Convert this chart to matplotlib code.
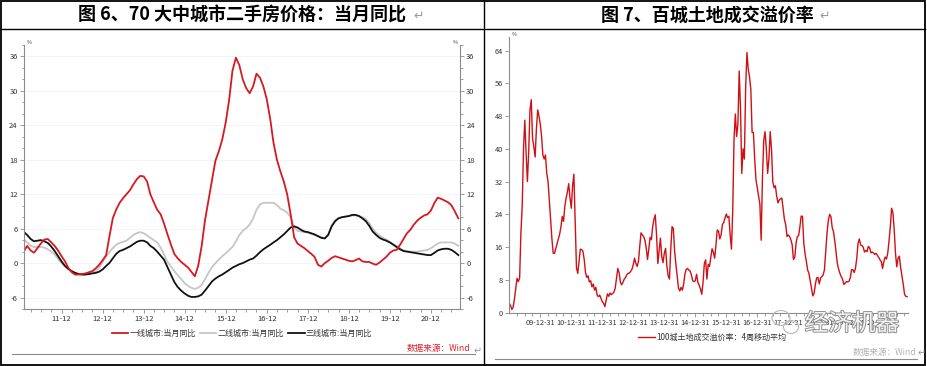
import pandas as pd
import matplotlib
matplotlib.use("Agg")
import matplotlib.pyplot as plt
import matplotlib.patheffects as pe
from matplotlib.lines import Line2D
from matplotlib.patches import Rectangle, Ellipse
from matplotlib.ticker import FixedLocator, MultipleLocator

plt.rcParams['font.family'] = ['Noto Sans CJK SC', 'DejaVu Sans']
plt.rcParams['axes.unicode_minus'] = False

# --- 图6: 70大中城市二手房价格 当月同比 (monthly, from 2011-01) ---
tier1_yoy = [2.1, 3.0, 2.2, 1.8, 2.6, 3.4, 4.1, 4.2, 3.6, 3.0, 2.2, 1.2,
             0.3, -0.8, -1.6, -2.0, -2.0, -1.9, -1.8, -1.6, -1.4, -0.9, -0.3, 0.5,
             1.4, 4.5, 7.8, 9.3, 10.5, 11.3, 12.0, 12.7, 13.7, 14.6, 15.2, 15.1,
             14.2, 12.0, 10.6, 9.3, 8.5, 6.9, 5.0, 3.2, 1.6, 0.8, 0.2, -0.3,
             -0.8, -1.5, -2.3, -0.5, 3.0, 7.5, 11.0, 14.5, 17.8, 19.5, 21.5, 24.5,
             28.5, 33.5, 35.8, 34.5, 32.0, 30.5, 29.6, 30.8, 33.0, 32.3, 30.8, 28.5,
             25.0, 21.0, 18.0, 16.0, 14.2, 12.0, 8.5, 4.5, 3.4, 3.0, 2.6, 2.1,
             1.6, 1.1, -0.3, -0.6, 0.0, 0.4, 0.9, 1.2, 1.0, 0.8, 0.6, 0.4,
             0.3, 0.5, 0.8, 0.3, 0.2, 0.2, -0.1, -0.3, 0.1, 0.6, 1.1, 1.8,
             2.2, 2.3, 3.2, 4.2, 5.2, 5.8, 6.7, 7.4, 7.9, 8.3, 8.5, 9.2,
             10.5, 11.4, 11.2, 10.9, 10.6, 10.1, 9.0, 7.8]
tier2_yoy = [4.1, 3.6, 3.0, 2.8, 2.8, 2.8, 2.7, 2.4, 2.0, 1.5, 0.7, 0.0,
             -0.6, -1.1, -1.5, -1.8, -1.9, -2.0, -1.9, -1.8, -1.6, -1.4, -0.8, 0.2,
             1.1, 1.9, 2.6, 3.2, 3.5, 3.7, 3.9, 4.4, 4.9, 5.2, 5.4, 5.2,
             4.8, 4.4, 4.0, 3.6, 2.7, 1.5, 0.2, -0.6, -1.4, -2.1, -2.8, -3.5,
             -4.0, -4.3, -4.5, -4.3, -3.8, -2.8, -1.7, -0.7, 0.0, 0.6, 1.2, 1.7,
             2.3, 2.8, 3.8, 4.9, 5.6, 6.1, 6.7, 7.8, 9.3, 10.2, 10.5, 10.5,
             10.5, 10.5, 10.1, 9.5, 9.2, 8.8, 8.0, 6.2, 5.6, 5.5, 5.4, 5.3,
             5.1, 4.9, 4.7, 4.5, 4.3, 5.0, 6.6, 7.5, 7.8, 8.0, 8.1, 8.2,
             8.3, 8.3, 8.2, 8.0, 7.7, 7.0, 6.0, 5.3, 4.8, 4.4, 4.1, 3.7,
             3.2, 3.0, 2.6, 2.2, 2.1, 2.0, 2.0, 2.0, 2.1, 2.2, 2.3, 2.6,
             3.0, 3.4, 3.6, 3.6, 3.6, 3.6, 3.4, 3.0]
tier3_yoy = [5.4, 4.9, 4.2, 3.8, 3.9, 4.0, 3.8, 3.5, 2.9, 2.1, 1.2, 0.3,
             -0.5, -1.0, -1.4, -1.7, -1.9, -2.0, -2.0, -1.9, -1.8, -1.7, -1.5, -1.1,
             -0.5, 0.0, 0.8, 1.6, 2.1, 2.3, 2.6, 2.9, 3.3, 3.7, 3.9, 3.9,
             3.6, 3.0, 2.6, 2.0, 1.3, 0.6, -0.7, -2.0, -3.3, -4.2, -4.8, -5.3,
             -5.7, -5.9, -5.9, -5.8, -5.5, -4.8, -4.0, -3.2, -2.7, -2.3, -2.0, -1.6,
             -1.2, -0.8, -0.5, -0.2, 0.0, 0.3, 0.6, 0.8, 1.3, 1.9, 2.4, 2.8,
             3.2, 3.6, 4.0, 4.5, 5.0, 5.6, 6.2, 6.4, 6.2, 5.8, 5.5, 5.4,
             5.2, 5.0, 4.7, 4.4, 4.3, 4.9, 6.4, 7.3, 7.8, 8.0, 8.1, 8.2,
             8.4, 8.4, 8.2, 7.8, 7.3, 6.5, 5.5, 4.9, 4.4, 4.1, 3.9, 3.6,
             3.2, 2.8, 2.4, 2.1, 2.0, 1.9, 1.8, 1.7, 1.6, 1.5, 1.4, 1.4,
             1.8, 2.2, 2.4, 2.5, 2.5, 2.3, 1.9, 1.4]
tier_labels = ['一线城市:当月同比', '二线城市:当月同比', '三线城市:当月同比']
tier_years = list(range(2011, 2021))

# --- 图7: 100城土地成交溢价率 4周移动平均 (half-monthly, 2009-01 .. 2021-11) ---
land_premium = [2.3, 1.7, 0.8, 1.4, 3.4, 6.0, 8.4, 7.6, 8.5, 19.6,
                26, 40, 47, 39, 32, 39, 49.5, 52, 42.5, 40.5,
                38, 45, 49.5, 48, 46, 43, 38.5, 37.5, 38.5, 34,
                32, 27.5, 22.7, 18, 14.5, 14.5, 15.7, 17, 18.2, 19.2,
                21, 23.5, 22.3, 26, 28, 29.5, 31.5, 28, 25.5, 31,
                33.8, 22, 11, 9.6, 12.5, 15.5, 15.4, 15, 13, 9.8,
                8.6, 9.0, 7.5, 7.8, 6.3, 7.0, 5.5, 6.2, 4.3, 3.9,
                4.3, 3.5, 2.7, 2.3, 1.5, 3.0, 4.6, 4.0, 4.8, 4.4,
                4.7, 5.0, 6.0, 8.5, 10.8, 9.8, 7.5, 6.8, 7.4, 8.2,
                8.6, 9.3, 9.6, 9.7, 10.1, 10.6, 11.8, 13.3, 12.0, 11.3,
                12.5, 16.2, 19.5, 19, 18.6, 17.7, 15.8, 13, 15.5, 18.4,
                17.8, 21, 22.8, 23.9, 19, 12, 15, 18.2, 13.8, 12.2,
                14.5, 15.7, 11.5, 9.0, 8.2, 15.5, 21, 20.6, 15, 11.8,
                9.0, 6.0, 5.3, 6.2, 5.5, 7.0, 9.5, 10.6, 10.8, 10.4,
                10.2, 9.2, 7.8, 7.6, 7.8, 9.4, 7.4, 6.7, 5.8, 4.5,
                7.3, 12, 12.9, 8.2, 11.8, 11.3, 13.4, 15.6, 14.8, 13.3,
                16.5, 20.2, 19.9, 18, 19, 21.5, 22, 23.1, 24.1, 23.2,
                23.5, 19, 15.5, 25, 42.5, 48.5, 43, 46, 59, 50,
                34, 40, 37.5, 55, 63.5, 59.5, 57.5, 54.5, 44, 44,
                37.5, 32.4, 30.5, 28.5, 26.5, 17.7, 33, 42, 44.2, 40,
                34, 37.5, 44.2, 40, 32, 30.5, 31, 28.5, 26.8, 27.5,
                27.8, 28, 25.5, 22.8, 21.5, 18.6, 19, 18.6, 17.8, 16.6,
                13, 13.5, 16.9, 18.6, 18.8, 21, 23.6, 23.5, 17, 14.4,
                12.5, 10.4, 9.6, 7.7, 5.9, 4.1, 4.7, 7.0, 8.5, 8.6,
                7.0, 8.5, 8.8, 9.2, 10.5, 15, 19.5, 22.5, 24, 23.5,
                20.8, 19.8, 17.5, 14.8, 12, 10.6, 9.6, 8.8, 8.2, 6.9,
                7.2, 7.6, 7.5, 7.7, 8.5, 10.5, 10.5, 9.8, 10.8, 13.2,
                16.9, 18, 16.5, 16.4, 16, 14.8, 15.2, 14.9, 16.2, 15.8,
                14.6, 14.8, 14.6, 14.2, 14.5, 14, 13.5, 12.9, 12.5, 10.8,
                12.5, 13.6, 13.1, 14.5, 17.5, 21, 25.5, 24.5, 20.3, 14.5,
                11.2, 13.3, 13.8, 11, 9, 7, 4.5, 4, 3.9]
land_label = '100城土地成交溢价率：4周移动平均'
land_years = list(range(2009, 2021))

W, H = 927, 366
RED = '#d7191f'
AXC = '#8c8c8c'
fig = plt.figure(figsize=(W / 100, H / 100), dpi=100)


def fx(px):
    return px / W


def fy(py):
    return 1 - py / H


def date_locs(dates):
    return [matplotlib.dates.date2num(d) for d in dates]


# ---------------- left chart ----------------
months = pd.date_range('2011-01-31', periods=len(tier1_yoy), freq='ME')
ax1 = fig.add_axes([fx(24), fy(309), fx(436), 264 / H])
ax1.plot(months, tier2_yoy, color='#c6c6c6', lw=1.3, label=tier_labels[1])
ax1.plot(months, tier3_yoy, color='#111111', lw=1.3, label=tier_labels[2])
ax1.plot(months, tier1_yoy, color=RED, lw=1.3, label=tier_labels[0])
ax1.set_ylim(-8, 38)
ax1.set_xlim(months[0], months[-1] + pd.Timedelta(days=15))
ax1.set_yticks(range(-6, 37, 6))
ax1.yaxis.set_minor_locator(MultipleLocator(2))
ticks1 = [pd.Timestamp(f'{y}-12-31') for y in tier_years]
ax1.xaxis.set_major_locator(FixedLocator(date_locs(ticks1)))
ax1.set_xticklabels([f'{y % 100:02d}-12' for y in tier_years])
q1 = pd.date_range('2011-03-31', '2021-09-30', freq='QE')
ax1.xaxis.set_minor_locator(FixedLocator(date_locs(q1)))
ax1.grid(axis='y', color='#f2f2f2', lw=0.6)
ax1.set_axisbelow(True)
ax1.spines['top'].set_visible(False)
for s in ['left', 'right', 'bottom']:
    ax1.spines[s].set_color(AXC)
    ax1.spines[s].set_linewidth(0.8)
ax1.tick_params(which='both', left=True, right=True, labelleft=True,
                labelright=True, colors=AXC, labelcolor='#333333',
                labelsize=5.5, width=0.6, pad=1.5)
ax1.tick_params(which='major', length=3)
ax1.tick_params(which='minor', length=1.8)
ax1.text(0.006, 1.0, '%', transform=ax1.transAxes, fontsize=3.8,
         color='#444444', ha='left', va='bottom')
ax1.text(0.994, 1.0, '%', transform=ax1.transAxes, fontsize=3.8,
         color='#444444', ha='right', va='bottom')
h, l = ax1.get_legend_handles_labels()
order = [2, 0, 1]
ax1.legend([h[i] for i in order], [l[i] for i in order], loc='center',
           bbox_to_anchor=(fx(242), fy(333)), bbox_transform=fig.transFigure,
           ncol=3, frameon=False, fontsize=5.8, handlelength=2.0,
           handletextpad=0.1, columnspacing=0.6, labelcolor='#333333')

# ---------------- right chart ----------------
land_dates = pd.date_range('2009-01-01', '2021-11-01', periods=len(land_premium))
ax2 = fig.add_axes([fx(509.3), fy(312.7), fx(398.4), 275.7 / H])
ax2.plot(land_dates, land_premium, color='#d01015', lw=1.0, label=land_label)
ax2.set_ylim(0, 67.3)
ax2.set_xlim(pd.Timestamp('2009-01-01'), pd.Timestamp('2021-11-08'))
ax2.set_yticks(range(0, 65, 8))
ticks2 = [pd.Timestamp(f'{y}-12-31') for y in land_years]
ax2.xaxis.set_major_locator(FixedLocator(date_locs(ticks2)))
ax2.set_xticklabels([f'{y % 100:02d}-12-31' for y in land_years])
q2 = pd.date_range('2009-03-31', '2021-09-30', freq='QE')
ax2.xaxis.set_minor_locator(FixedLocator(date_locs(q2)))
for s in ['top', 'right']:
    ax2.spines[s].set_visible(False)
for s in ['left', 'bottom']:
    ax2.spines[s].set_color(AXC)
    ax2.spines[s].set_linewidth(0.8)
ax2.tick_params(which='both', colors=AXC, labelcolor='#333333',
                labelsize=5.3, width=0.6, pad=1.5)
ax2.tick_params(which='major', length=3)
ax2.tick_params(which='minor', length=1.8)
ax2.text(0.005, 1.0, '%', transform=ax2.transAxes, fontsize=3.8,
         color='#444444', ha='left', va='bottom')
ax2.legend(loc='center', bbox_to_anchor=(fx(712), fy(337.7)),
           bbox_transform=fig.transFigure, frameon=False, fontsize=5.8,
           handlelength=2.2, handletextpad=0.1, labelcolor='#333333')

# ---------------- table frame, titles, notes ----------------
fig.add_artist(Rectangle((fx(1), fy(364.5)), fx(924), 363.5 / H,
                         transform=fig.transFigure, fill=False,
                         edgecolor='black', lw=1.3))
fig.add_artist(Line2D([fx(1), fx(925)], [fy(29.3)] * 2, color='black', lw=1.0))
fig.add_artist(Line2D([fx(484)] * 2, [fy(1), fy(364.5)], color='black', lw=1.0))

fig.text(fx(242), fy(15), '图 6、70 大中城市二手房价格：当月同比',
         ha='center', va='center', fontsize=13, fontweight='bold')
fig.text(fx(413), fy(16), '↵', ha='left', va='center', fontsize=9,
         color='#9a9a9a')
fig.text(fx(707), fy(15), '图 7、百城土地成交溢价率',
         ha='center', va='center', fontsize=13, fontweight='bold')
fig.text(fx(819), fy(16), '↵', ha='left', va='center', fontsize=9,
         color='#9a9a9a')

fig.add_artist(Line2D([fx(12), fx(475)], [fy(354.3)] * 2, color='#8a8a8a', lw=0.8))
fig.text(fx(470), fy(349), '数据来源：Wind', ha='right', va='center',
         fontsize=6.2, color='#e0202a', style='italic')
fig.text(fx(474), fy(351), '↵', ha='left', va='center', fontsize=7,
         color='#9a9a9a')
fig.add_artist(Line2D([fx(495), fx(917)], [fy(359.3)] * 2, color='#8a8a8a', lw=0.8))
fig.text(fx(916), fy(352.5), '数据来源：Wind', ha='right', va='center',
         fontsize=6.2, color='#b4b4b4')
fig.text(fx(918), fy(353), '↵', ha='left', va='center', fontsize=7,
         color='#9a9a9a')

# watermark
fig.add_artist(Ellipse((fx(781), fy(318)), fx(18), 15 / H,
                       transform=fig.transFigure, fill=False,
                       edgecolor='#b8b8b8', lw=0.8))
fig.add_artist(Ellipse((fx(791), fy(327)), fx(15), 13 / H,
                       transform=fig.transFigure, fill=False,
                       edgecolor='#b8b8b8', lw=0.8))
fig.text(fx(852), fy(324), '经济机器', ha='center', va='center', fontsize=17,
         color='#f2f2f2',
         path_effects=[pe.withStroke(linewidth=1.3, foreground='#8c8c8c')])

fig.savefig('out.png', dpi=100)
